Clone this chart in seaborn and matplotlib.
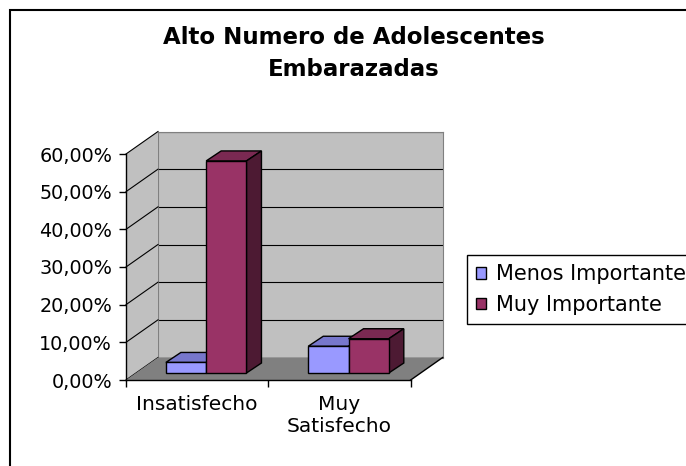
import numpy as np
import pandas as pd
import matplotlib
matplotlib.use("Agg")
import matplotlib.pyplot as plt
import seaborn as sns
from matplotlib.patches import Polygon, Rectangle, Patch
from matplotlib.lines import Line2D
from matplotlib.transforms import ScaledTranslation, IdentityTransform
from matplotlib.ticker import FuncFormatter, MultipleLocator

categorias = ["Insatisfecho", "Muy\nSatisfecho"]
series = ["Menos Importante", "Muy Importante"]
menos_importante = [2.8, 7.1]
muy_importante = [56.3, 9.1]

colores = ["#9999FF", "#993366"]
colores_arriba = ["#7777CC", "#7A2952"]
colores_lado = ["#4D4D80", "#4D1A33"]

df = pd.DataFrame({
    "categoria": categorias * 2,
    "serie": [series[0]] * 2 + [series[1]] * 2,
    "valor": menos_importante + muy_importante,
})

W, H = 686, 466
fig = plt.figure(figsize=(W / 100, H / 100), dpi=100)


def px(l, b, w, h):
    return [l / W, b / H, w / W, h / H]


# back wall
back = fig.add_axes(px(158, 108.5, 284.7, 226))
back.set_facecolor("#C0C0C0")
back.set_xlim(-0.5, 1.5)
back.set_ylim(0, 60)
back.yaxis.set_major_locator(MultipleLocator(10))
back.set_xticks([])
back.tick_params(axis="y", length=0, labelleft=False)
back.grid(axis="y", color="black", lw=0.8)
for s in back.spines.values():
    s.set_color("#808080")
    s.set_linewidth(0.8)
back.set_zorder(0)

# front plane
ax = fig.add_axes(px(126, 86, 284.7, 226))
ax.set_facecolor("none")
ax.set_zorder(1)

sns.barplot(data=df, x="categoria", y="valor", hue="serie", palette=colores,
            width=0.566, saturation=1, edgecolor="black", linewidth=1,
            ax=ax, legend=False)
ax.set_xlim(-0.5, 1.5)
ax.set_ylim(0, 60)
ax.set_xlabel("")
ax.set_ylabel("")

for s in ["top", "right"]:
    ax.spines[s].set_visible(False)
for s in ["left", "bottom"]:
    ax.spines[s].set_color("black")
    ax.spines[s].set_linewidth(1)

ax.yaxis.set_major_locator(MultipleLocator(10))
ax.yaxis.set_major_formatter(FuncFormatter(lambda v, p: f"{v:.2f}%".replace(".", ",")))
ax.tick_params(axis="y", length=5, width=1, color="black", labelsize=13.8, pad=5)
ax.tick_params(axis="x", which="major", length=0, labelsize=14.5, pad=11)
ax.set_xticks([-0.5, 0.5, 1.5], minor=True)
ax.tick_params(axis="x", which="minor", length=5, width=1, color="black")

ident = IdentityTransform()


def f(x, y):
    return ax.transData.transform((x, y))


def b(x, y):
    return back.transData.transform((x, y))


# side wall + its gridlines
side = Polygon([f(-0.5, 0), f(-0.5, 60), b(-0.5, 60), b(-0.5, 0)], closed=True,
               facecolor="#C0C0C0", edgecolor="none", transform=ident, zorder=0.5, clip_on=False)
ax.add_patch(side)
for v in range(0, 61, 10):
    p0, p1 = f(-0.5, v), b(-0.5, v)
    ax.add_line(Line2D([p0[0], p1[0]], [p0[1], p1[1]], color="black", lw=0.8,
                       transform=ident, zorder=0.7, clip_on=False))

# floor
floor = Polygon([f(-0.5, 0), f(1.5, 0), b(1.5, 0), b(-0.5, 0)], closed=True,
                facecolor="#808080", edgecolor="none", transform=ident, zorder=0.8, clip_on=False)
ax.add_patch(floor)
p0, p1 = f(1.5, 0), b(1.5, 0)
ax.add_line(Line2D([p0[0], p1[0]], [p0[1], p1[1]], color="black", lw=1,
                   transform=ident, zorder=0.9, clip_on=False))

# 3d bars
shift = ax.transData + ScaledTranslation(0.09, 0.07, fig.dpi_scale_trans)
dx, dy = 15, 10
for i, cont in enumerate(ax.containers):
    for j, bar in enumerate(cont):
        z = 2 + j * 0.2 + i * 0.1
        bar.set_transform(shift)
        bar.set_clip_on(False)
        bar.set_zorder(z + 0.05)
        bb = bar.get_window_extent()
        x0, x1, y0, y1 = bb.x0, bb.x1, bb.y0, bb.y1
        top = Polygon([(x0, y1), (x1, y1), (x1 + dx, y1 + dy), (x0 + dx, y1 + dy)],
                      closed=True, facecolor=colores_arriba[i], edgecolor="black", lw=1,
                      transform=ident, zorder=z, clip_on=False)
        lado = Polygon([(x1, y0), (x1, y1), (x1 + dx, y1 + dy), (x1 + dx, y0 + dy)],
                       closed=True, facecolor=colores_lado[i], edgecolor="black", lw=1,
                       transform=ident, zorder=z, clip_on=False)
        ax.add_patch(top)
        ax.add_patch(lado)

# legend
handles = [Patch(facecolor=c, edgecolor="black", lw=1, label=s) for c, s in zip(colores, series)]
leg = fig.legend(handles=handles, loc="upper left", bbox_to_anchor=(467 / W, (H - 255) / H),
                 bbox_transform=fig.transFigure, frameon=True, fancybox=False,
                 edgecolor="black", framealpha=1, borderaxespad=0, fontsize=15,
                 handlelength=0.45, handleheight=0.45, handletextpad=0.5,
                 borderpad=0.45, labelspacing=0.5)
leg.get_frame().set_linewidth(1)

# title
fig.text(354 / W, (H - 54) / H, "Alto Numero de Adolescentes\nEmbarazadas",
         ha="center", va="center", fontsize=16.5, fontweight="bold", linespacing=1.5)

# chart area border
fig.add_artist(Rectangle((10 / W, -0.2), 1.2, (H - 10) / H + 0.2, transform=fig.transFigure,
                         fill=False, edgecolor="black", lw=1.5))

fig.savefig("out.png", dpi=100)
